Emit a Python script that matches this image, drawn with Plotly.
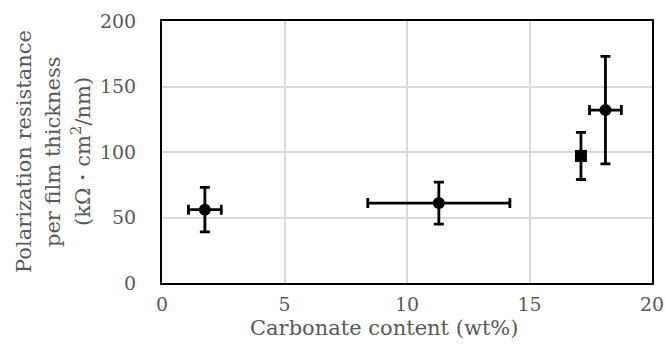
import plotly.graph_objects as go

# data
circle_x = [1.75, 11.3, 18.1]
circle_y = [56, 61, 132]
circle_xerr = [0.67, 2.9, 0.65]
circle_yerr = [17, 16, 41]

square_x = [17.1]
square_y = [97]
square_yerr = [18]

x_ticks = [0, 5, 10, 15, 20]
y_ticks = [0, 50, 100, 150, 200]

y_title_lines = ["Polarization resistance", "per film thickness", "(kΩ・cm<sup>2</sup>/nm)"]
x_title = "Carbonate content (wt%)"

FONT = "DejaVu Serif"
TXT = "#595959"
FS = 19
FT = 21

W, H = 665, 347
L, T = 162, 21
R = W - 652
B = H - 283

fig = go.Figure()
fig.add_trace(go.Scatter(
    x=circle_x, y=circle_y, mode="markers",
    marker=dict(symbol="circle", size=12, color="black"),
    error_x=dict(type="data", array=circle_xerr, color="black", thickness=2.8, width=5),
    error_y=dict(type="data", array=circle_yerr, color="black", thickness=2.8, width=5),
    showlegend=False,
))
fig.add_trace(go.Scatter(
    x=square_x, y=square_y, mode="markers",
    marker=dict(symbol="square", size=12, color="black"),
    error_y=dict(type="data", array=square_yerr, color="black", thickness=2.8, width=5),
    showlegend=False,
))

# y title lines as separate annotations (window x centres)
for cx, line in zip([24, 53, 81], y_title_lines):
    fig.add_annotation(
        text=line, xref="paper", yref="paper", x=0, y=0.5,
        xanchor="center", yanchor="middle", textangle=-90,
        xshift=cx - L, showarrow=False,
        font=dict(family=FONT, size=FT, color=TXT),
    )

fig.add_annotation(
    text=x_title, xref="paper", yref="paper", x=0.5, y=0,
    xanchor="center", yanchor="middle", yshift=-(328 - 283), xshift=-23,
    showarrow=False, font=dict(family=FONT, size=FT, color=TXT),
)

fig.update_layout(
    width=W, height=H,
    margin=dict(l=L, r=R, t=T, b=B, autoexpand=False),
    paper_bgcolor="white", plot_bgcolor="white",
    font=dict(family=FONT, size=FS, color=TXT),
    xaxis=dict(
        range=[0, 20], tickvals=x_ticks, showgrid=True, gridcolor="#d9d9d9", gridwidth=1.5,
        showline=True, linecolor="black", linewidth=2, mirror=True,
        ticks="", zeroline=False, ticklabelstandoff=3,
    ),
    yaxis=dict(
        range=[0, 200], tickvals=y_ticks, showgrid=True, gridcolor="#d9d9d9", gridwidth=1.5,
        showline=True, linecolor="black", linewidth=2, mirror=True,
        ticks="", zeroline=False, ticklabelstandoff=20,
    ),
)

fig.write_html(
    "out.html",
    config={"displayModeBar": False},
    post_script="document.body.style.margin='0';document.body.style.overflow='hidden';",
)
